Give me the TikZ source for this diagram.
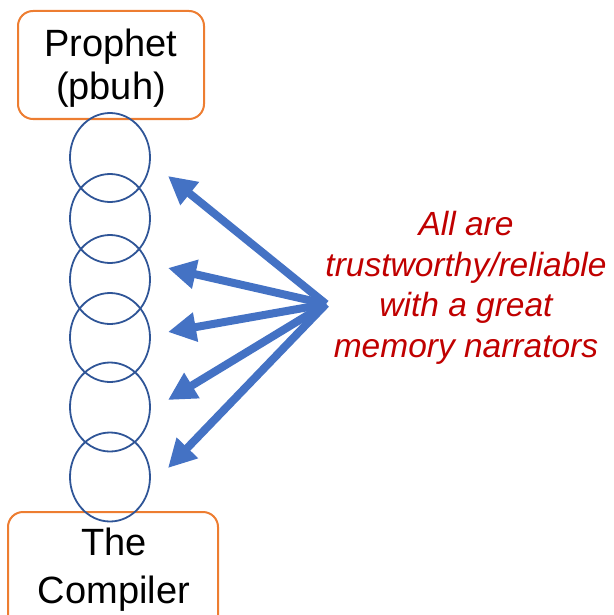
\documentclass[tikz,border=0pt]{standalone}
\usepackage{fontspec}
\setmainfont{Liberation Sans}
\usetikzlibrary{arrows.meta}
\definecolor{boxorange}{HTML}{ED7D31}
\definecolor{ringblue}{HTML}{2F5597}
\definecolor{arrowblue}{HTML}{4472C4}
\definecolor{notered}{HTML}{C00000}
\tikzset{
  endbox/.style={draw=boxorange, line width=2pt, rounded corners=15pt},
  ring/.style={draw=ringblue, line width=1.8pt},
  boxtext/.style={anchor=base, inner sep=0pt, font=\fontsize{38}{44}\selectfont},
  notetext/.style={anchor=base, inner sep=0pt, text=notered, font=\fontsize{33.5}{40}\selectfont\itshape},
  fanarrow/.style={draw=arrowblue, line width=8pt, -{Triangle[length=28pt, width=28pt]}}
}
\begin{document}
\begin{tikzpicture}[x=1pt, y=-1pt]
\useasboundingbox (0,0) rectangle (613,615);
\clip (0,0) rectangle (613,615);
% end boxes
\draw[endbox] (18,11) rectangle (204,119);
\draw[endbox] (8,512) rectangle (218,650);
\node[boxtext] (p1) at (111,57) {Prophet};
\node[boxtext] (p2) at (111,100) {(pbuh)};
\node[boxtext] (c1) at (114,555) {The};
\node[boxtext] (c2) at (114,603) {Compiler};
% chain of narrators
\foreach \i/\y in {1/157.5, 2/218.5, 3/279.5, 4/337.5, 5/407, 6/477}{
  \draw[ring] (110,\y) ellipse [x radius=40, y radius=44.5];
}
% arrows
\coordinate (hub) at (326,304);
\coordinate (t1) at (168,176);
\coordinate (t2) at (168,268);
\coordinate (t3) at (168,332);
\coordinate (t4) at (168,400);
\coordinate (t5) at (168,468);
\foreach \t in {t1,t2,t3,t4,t5}{
  \draw[fanarrow] (hub) -- (\t);
}
% note
\node[notetext] (n1) at (466,235) {All are};
\node[notetext] (n2) at (466,276) {trustworthy/reliable};
\node[notetext] (n3) at (466,316) {with a great};
\node[notetext] (n4) at (466,357) {memory narrators};
\end{tikzpicture}
\end{document}
